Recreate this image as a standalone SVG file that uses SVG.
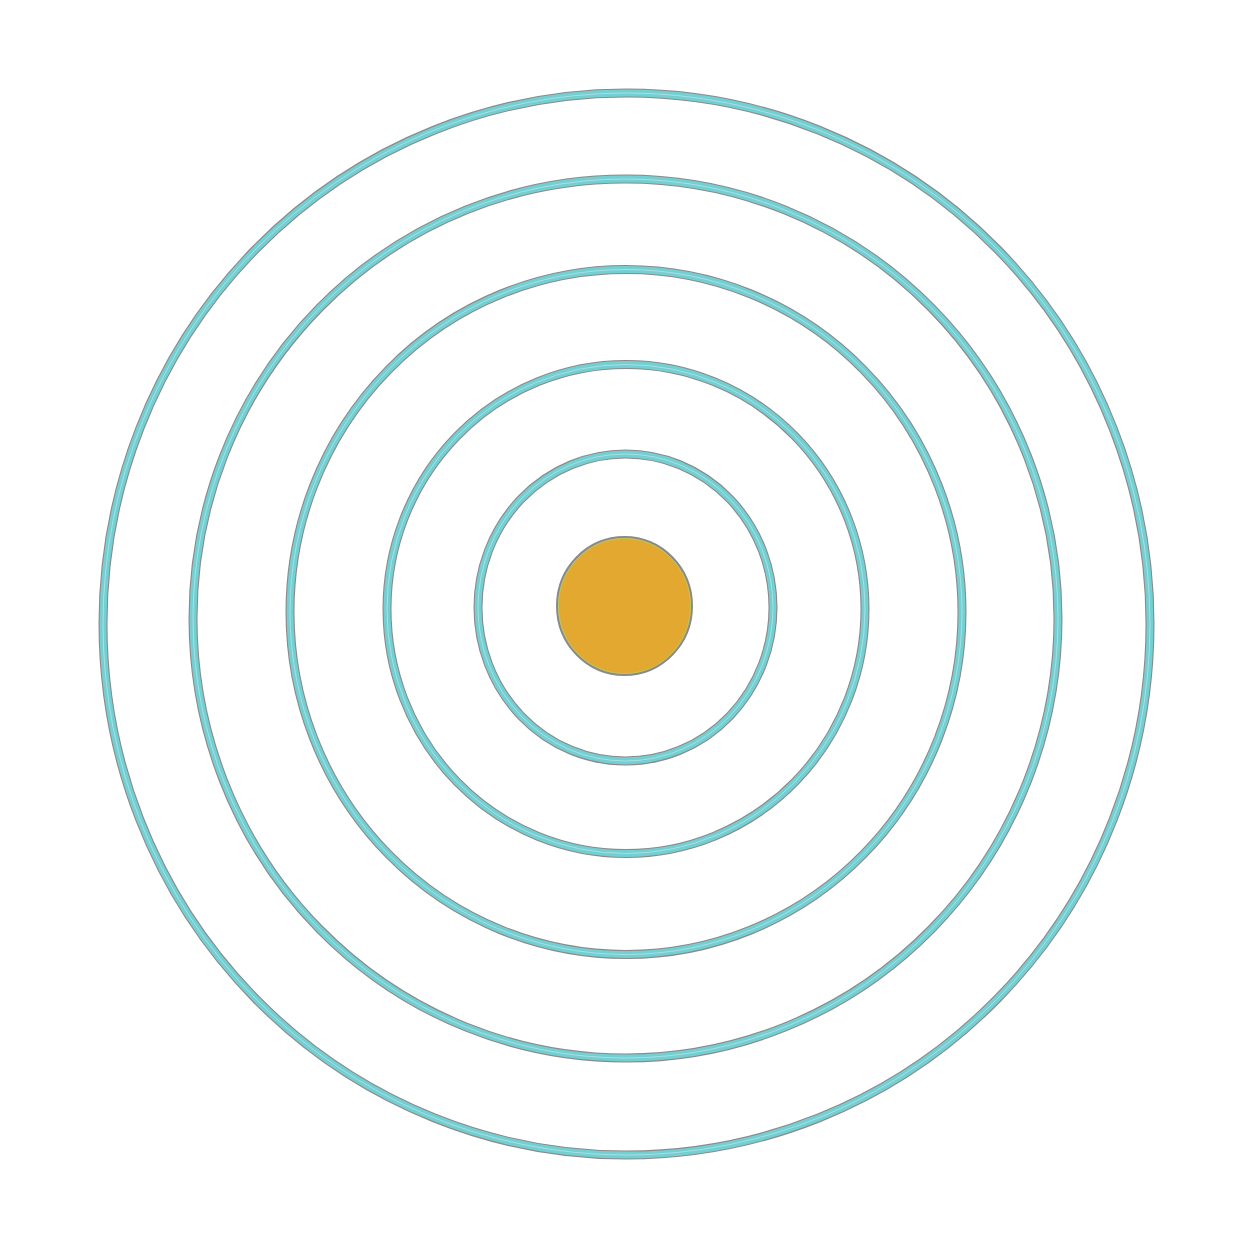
<svg xmlns="http://www.w3.org/2000/svg" width="1248" height="1248" viewBox="0 0 1248 1248">
<style>
.edge{fill:none;stroke:#8a8a8a;stroke-width:9}
.band{fill:none;stroke:#74cfd2;stroke-width:6.8}
.hl{fill:none;stroke:#a4e2e4;stroke-width:1}
.core{fill:#e3a830;stroke:#8a8a8a;stroke-width:2}
.coreIn{fill:none;stroke:#b8c860;stroke-width:1}
</style>
<rect width="1248" height="1248" fill="#ffffff"/>
<g id="ring1">
<ellipse class="edge" cx="626.5" cy="624" rx="523.5" ry="531"/>
<ellipse class="band" cx="626.5" cy="624" rx="523.5" ry="531"/>
<ellipse class="hl" cx="626.5" cy="624" rx="523.5" ry="531"/>
</g>
<g id="ring2">
<ellipse class="edge" cx="625.5" cy="618.5" rx="432.5" ry="439.5"/>
<ellipse class="band" cx="625.5" cy="618.5" rx="432.5" ry="439.5"/>
<ellipse class="hl" cx="625.5" cy="618.5" rx="432.5" ry="439.5"/>
</g>
<g id="ring3">
<ellipse class="edge" cx="626" cy="612" rx="336" ry="342.5"/>
<ellipse class="band" cx="626" cy="612" rx="336" ry="342.5"/>
<ellipse class="hl" cx="626" cy="612" rx="336" ry="342.5"/>
</g>
<g id="ring4">
<ellipse class="edge" cx="626" cy="609" rx="239" ry="244.5"/>
<ellipse class="band" cx="626" cy="609" rx="239" ry="244.5"/>
<ellipse class="hl" cx="626" cy="609" rx="239" ry="244.5"/>
</g>
<g id="ring5">
<ellipse class="edge" cx="625.5" cy="607.5" rx="147.5" ry="153.5"/>
<ellipse class="band" cx="625.5" cy="607.5" rx="147.5" ry="153.5"/>
<ellipse class="hl" cx="625.5" cy="607.5" rx="147.5" ry="153.5"/>
</g>
<g id="core">
<ellipse class="core" cx="624.5" cy="606" rx="67.5" ry="69"/>
<ellipse class="coreIn" cx="624.5" cy="606" rx="66" ry="67.5"/>
</g>
<g id="connectors"/>
</svg>
